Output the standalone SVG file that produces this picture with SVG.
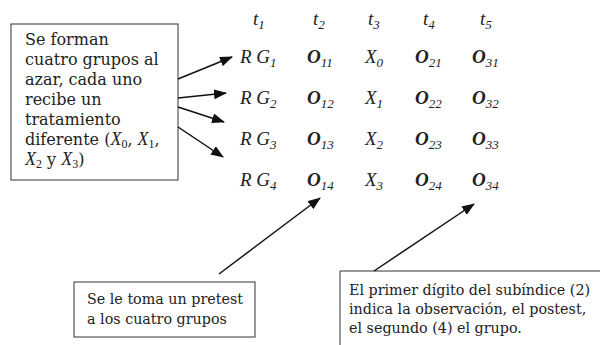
<svg xmlns="http://www.w3.org/2000/svg" width="600" height="345" viewBox="0 0 600 345">
<defs>
<marker id="ah" markerWidth="13" markerHeight="10" refX="12" refY="5" orient="auto" markerUnits="userSpaceOnUse"><path d="M0,0 L13,5 L0,10 z" fill="#111"/></marker>
</defs>
<style>
.box{fill:#fff;stroke:#333;stroke-width:1}
.note{font-family:"DejaVu Serif",serif;font-size:16px;fill:#222}
.note2{font-family:"DejaVu Serif",serif;font-size:14.3px;fill:#222}
.xi{font-family:"Liberation Serif",serif;font-style:italic;font-size:18px}
.xs{font-family:"Liberation Serif",serif;font-style:normal;font-size:12px}
.m{font-family:"Liberation Serif",serif;font-style:italic;font-size:19px;fill:#222}
.b{font-weight:bold}
.sub{font-size:13px;font-weight:normal}
.conn{stroke:#111;stroke-width:1.5;fill:none;marker-end:url(#ah)}
</style>
<rect width="600" height="345" fill="#fff"/>
<g id="box-grupos">
<rect class="box" x="11" y="24" width="167" height="156"/>
<text class="note" x="25" y="45">Se forman</text>
<text class="note" x="25" y="65">cuatro grupos al</text>
<text class="note" x="25" y="85">azar, cada uno</text>
<text class="note" x="25" y="105">recibe un</text>
<text class="note" x="25" y="125">tratamiento</text>
<text class="note" x="25" y="145">diferente (<tspan class="xi">X</tspan><tspan class="xs" dy="3">0</tspan><tspan dy="-3">, </tspan><tspan class="xi">X</tspan><tspan class="xs" dy="3">1</tspan><tspan dy="-3">,</tspan></text>
<text class="note" x="25" y="165"><tspan class="xi">X</tspan><tspan class="xs" dy="3">2</tspan><tspan dy="-3"> y </tspan><tspan class="xi">X</tspan><tspan class="xs" dy="3">3</tspan><tspan dy="-3">)</tspan></text>
</g>
<g id="matrix">
<text class="m" x="253" y="25">t<tspan class="sub" dy="4">1</tspan></text>
<text class="m" x="313" y="25">t<tspan class="sub" dy="4">2</tspan></text>
<text class="m" x="368" y="25">t<tspan class="sub" dy="4">3</tspan></text>
<text class="m" x="423" y="25">t<tspan class="sub" dy="4">4</tspan></text>
<text class="m" x="480" y="25">t<tspan class="sub" dy="4">5</tspan></text>

<text class="m" x="240" y="63">R G<tspan class="sub" dy="4">1</tspan></text>
<text class="m" x="307" y="63"><tspan class="b">O</tspan><tspan class="sub" dy="4">11</tspan></text>
<text class="m" x="365" y="63">X<tspan class="sub" dy="4">0</tspan></text>
<text class="m" x="415" y="63"><tspan class="b">O</tspan><tspan class="sub" dy="4">21</tspan></text>
<text class="m" x="472" y="63"><tspan class="b">O</tspan><tspan class="sub" dy="4">31</tspan></text>

<text class="m" x="240" y="104">R G<tspan class="sub" dy="4">2</tspan></text>
<text class="m" x="307" y="104"><tspan class="b">O</tspan><tspan class="sub" dy="4">12</tspan></text>
<text class="m" x="365" y="104">X<tspan class="sub" dy="4">1</tspan></text>
<text class="m" x="415" y="104"><tspan class="b">O</tspan><tspan class="sub" dy="4">22</tspan></text>
<text class="m" x="472" y="104"><tspan class="b">O</tspan><tspan class="sub" dy="4">32</tspan></text>

<text class="m" x="240" y="145">R G<tspan class="sub" dy="4">3</tspan></text>
<text class="m" x="307" y="145"><tspan class="b">O</tspan><tspan class="sub" dy="4">13</tspan></text>
<text class="m" x="365" y="145">X<tspan class="sub" dy="4">2</tspan></text>
<text class="m" x="415" y="145"><tspan class="b">O</tspan><tspan class="sub" dy="4">23</tspan></text>
<text class="m" x="472" y="145"><tspan class="b">O</tspan><tspan class="sub" dy="4">33</tspan></text>

<text class="m" x="240" y="186">R G<tspan class="sub" dy="4">4</tspan></text>
<text class="m" x="307" y="186"><tspan class="b">O</tspan><tspan class="sub" dy="4">14</tspan></text>
<text class="m" x="365" y="186">X<tspan class="sub" dy="4">3</tspan></text>
<text class="m" x="415" y="186"><tspan class="b">O</tspan><tspan class="sub" dy="4">24</tspan></text>
<text class="m" x="472" y="186"><tspan class="b">O</tspan><tspan class="sub" dy="4">34</tspan></text>
</g>
<g id="box-pretest">
<rect class="box" x="74" y="282" width="181" height="55"/>
<text class="note2" x="87" y="304">Se le toma un pretest</text>
<text class="note2" x="87" y="324">a los cuatro grupos</text>
</g>
<g id="box-subindice">
<path d="M340,345 V271 H600" fill="none" stroke="#333" stroke-width="1"/>
<text class="note2" x="349" y="295">El primer dígito del subíndice (2)</text>
<text class="note2" x="349" y="314">indica la observación, el postest,</text>
<text class="note2" x="349" y="333">el segundo (4) el grupo.</text>
</g>
<g id="connectors">
<line class="conn" x1="178" y1="79" x2="232" y2="57"/>
<line class="conn" x1="178" y1="98" x2="226" y2="93"/>
<line class="conn" x1="178" y1="107" x2="224" y2="122"/>
<line class="conn" x1="178" y1="127" x2="223" y2="157"/>
<line class="conn" x1="219" y1="274" x2="320" y2="198"/>
<line class="conn" x1="374" y1="271" x2="474" y2="204"/>
</g>
</svg>
